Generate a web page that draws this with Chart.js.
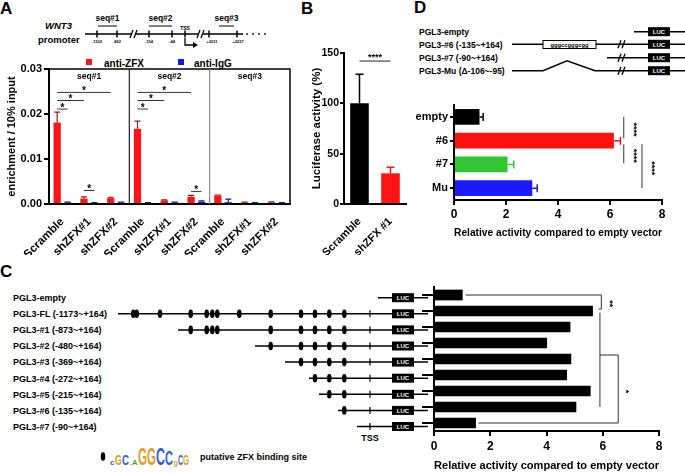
<!DOCTYPE html>
<html>
<head>
<meta charset="utf-8">
<script src="https://cdn.jsdelivr.net/npm/chart.js@4.4.1/dist/chart.umd.min.js"></script>
<style>
    html, body { margin: 0; padding: 0; background: #fff; }
    #page { position: relative; width: 685px; height: 473px; overflow: hidden; }
    #page canvas { position: absolute; }
    #art { position: absolute; left: 0; top: 0; }
</style>
</head>
<body>
<div id="page">
    <svg id="art" width="685" height="473"></svg>
    <canvas id="chartA" width="300" height="200" style="left:0;top:55px"></canvas>
    <canvas id="chartB" width="115" height="215" style="left:300px;top:40px"></canvas>
    <canvas id="chartD" width="280" height="150" style="left:405px;top:95px"></canvas>
    <canvas id="chartC" width="285" height="198" style="left:400px;top:275px"></canvas>
</div>
<script>
/* ---------- data ---------- */

// A: ChIP-qPCR
const chipCategories = ["Scramble", "shZFX#1", "shZFX#2", "Scramble", "shZFX#1", "shZFX#2", "Scramble", "shZFX#1", "shZFX#2"];
const chipRegions = ["seq#1", "seq#2", "seq#3"];
const chipZFX = [0.0181, 0.0012, 0.0013, 0.0167, 0.0008, 0.0016, 0.0019, 0.0003, 0.0004];
const chipZFXErr = [0.0204, 0.0016, 0.0015, 0.0184, 0.0009, 0.0019, 0.0020, 0.0004, 0.0005];
const chipIgG = [0.0003, 0.0002, 0.0003, 0.0002, 0.0003, 0.0005, 0.0004, 0.0002, 0.0002];
const chipIgGErr = [0.0004, 0.0003, 0.0004, 0.0003, 0.0004, 0.0007, 0.0011, 0.0003, 0.0003];
const chipTicks = [0, 0.01, 0.02, 0.03];
// [category, dataset, category, dataset, height]
const chipSig = [
    [0, 0, 2, 0, 0.0248], [0, 0, 1, 0, 0.0230], [0, 0, 0, 1, 0.0211], [1, 0, 1, 1, 0.0030],
    [3, 0, 5, 0, 0.0248], [3, 0, 4, 0, 0.0230], [3, 0, 3, 1, 0.0211], [5, 0, 5, 1, 0.0028]
];

// B: luciferase
const lucCategories = ["Scramble", "shZFX #1"];
const lucValues = [100, 30.5];
const lucErr = [129, 36.5];
const lucSigHeight = 142;

// C: deletion constructs
const delConstructs = ["PGL3-empty", "PGL3-FL (-1173~+164)", "PGL3-#1 (-873~+164)", "PGL3-#2 (-480~+164)",
    "PGL3-#3 (-369~+164)", "PGL3-#4 (-272~+164)", "PGL3-#5 (-215~+164)", "PGL3-#6 (-135~+164)", "PGL3-#7 (-90~+164)"];
const delValues = [1.02, 5.65, 4.85, 4.02, 4.88, 4.73, 5.57, 5.06, 1.49];
const delBrackets = [
    { path: [[1.12, 0], [5.95, 0], [5.95, 0.88], [5.85, 0.88]], label: "**", at: [6.25, 0.42] },
    { path: [[5.9, 1.1], [5.9, 7.0]] },
    { path: [[5.9, 3.75], [6.55, 3.75], [6.55, 8], [1.58, 8]], label: "*", at: [6.8, 5.9] }
];

// D: mutant constructs
const mutConstructs = ["PGL3-empty", "PGL3-#6 (-135~+164)", "PGL3-#7 (-90~+164)", "PGL3-Mu (\u0394-106~-95)"];
const mutCategories = ["empty", "#6", "#7", "Mu"];
const mutValues = [0.98, 6.15, 2.06, 3.01];
const mutErr = [1.12, 6.40, 2.30, 3.20];
const mutColors = ["#000000", "#ff1010", "#33c433", "#1a1aff"];
// [from row, to row, x value]
const mutSig = [[0.0, 0.9, 6.53], [1.15, 1.95, 6.53], [1.15, 3.0, 7.23]];

/* ---------- chart defaults ---------- */

const FONT = '"Liberation Sans", Arial, Helvetica, sans-serif';
Chart.defaults.font.family = FONT;
Chart.defaults.font.weight = "bold";
Chart.defaults.color = "#000";
Chart.defaults.animation = false;
Chart.defaults.responsive = false;
Chart.defaults.devicePixelRatio = 1;
Chart.defaults.plugins.legend.display = false;
Chart.defaults.plugins.tooltip.enabled = false;

function bold(size) {
    return { family: FONT, weight: "bold", size };
}

const errorBars = {
    id: "errorBars",
    afterDatasetsDraw(chart, args, opts) {
        const ctx = chart.ctx;
        const horizontal = chart.options.indexAxis === "y";
        const valueScale = horizontal ? chart.scales.x : chart.scales.y;
        chart.data.datasets.forEach((ds, di) => {
            if (!ds.errorTop) return;
            chart.getDatasetMeta(di).data.forEach((bar, i) => {
                const e = ds.errorTop[i];
                if (e == null) return;
                const end = valueScale.getPixelForValue(e);
                const cap = opts.cap || 3;
                ctx.save();
                ctx.strokeStyle = Array.isArray(ds.errorColor) ? ds.errorColor[i] : ds.errorColor;
                ctx.lineWidth = opts.width || 1.2;
                ctx.beginPath();
                if (horizontal) {
                    ctx.moveTo(bar.x, bar.y);
                    ctx.lineTo(end, bar.y);
                    ctx.moveTo(end, bar.y - cap);
                    ctx.lineTo(end, bar.y + cap);
                } else {
                    ctx.moveTo(bar.x, bar.y);
                    ctx.lineTo(bar.x, end);
                    ctx.moveTo(bar.x - cap, end);
                    ctx.lineTo(bar.x + cap, end);
                }
                ctx.stroke();
                ctx.restore();
            });
        });
    }
};

function rotatedText(ctx, text, x, y, size) {
    ctx.save();
    ctx.translate(x, y);
    ctx.rotate(Math.PI / 2);
    ctx.font = `bold ${size}px ${FONT}`;
    ctx.textAlign = "center";
    ctx.textBaseline = "middle";
    ctx.fillText(text, 0, 0);
    ctx.restore();
}

/* ---------- A ---------- */

const chipExtras = {
    id: "chipExtras",
    afterDraw(chart) {
        const { ctx, chartArea: a, scales: { x, y } } = chart;
        ctx.save();
        ctx.strokeStyle = "#000";
        ctx.lineWidth = 1.5;
        ctx.beginPath();
        ctx.moveTo(a.left, a.top);
        ctx.lineTo(a.right, a.top);
        ctx.lineTo(a.right, a.bottom);
        ctx.stroke();

        [3, 6].forEach((c, k) => {
            const px = (x.getPixelForTick(c - 1) + x.getPixelForTick(c)) / 2;
            ctx.strokeStyle = k ? "#8a8a8a" : "#222";
            ctx.lineWidth = 1.2;
            ctx.beginPath();
            ctx.moveTo(px, a.top);
            ctx.lineTo(px, a.bottom);
            ctx.stroke();
        });

        ctx.fillStyle = "#000";
        ctx.font = `bold 8.5px ${FONT}`;
        ctx.textAlign = "center";
        ctx.textBaseline = "middle";
        chipRegions.forEach((r, g) => {
            ctx.fillText(r, x.getPixelForTick(g * 3 + 1), a.top + 8);
        });

        ctx.font = `bold 10px ${FONT}`;
        ctx.textBaseline = "alphabetic";
        chipSig.forEach(([c1, d1, c2, d2, v]) => {
            const x1 = chart.getDatasetMeta(d1).data[c1].x;
            const x2 = chart.getDatasetMeta(d2).data[c2].x;
            const py = y.getPixelForValue(v);
            ctx.strokeStyle = "#333";
            ctx.lineWidth = 1;
            ctx.beginPath();
            ctx.moveTo(x1, py);
            ctx.lineTo(x2, py);
            ctx.stroke();
            ctx.fillText("*", (x1 + x2) / 2, py + 1.8);
        });
        ctx.restore();
    }
};

new Chart(document.getElementById("chartA"), {
    type: "bar",
    data: {
        labels: chipCategories,
        datasets: [
            { label: "anti-ZFX", data: chipZFX, backgroundColor: "#ff1515", errorTop: chipZFXErr, errorColor: "#8e1b1b" },
            { label: "anti-IgG", data: chipIgG, backgroundColor: "#1515ee", errorTop: chipIgGErr, errorColor: "#1b1b7a" }
        ]
    },
    options: {
        layout: { padding: { top: 14, right: 10, left: 0, bottom: 0 } },
        datasets: { bar: { categoryPercentage: 0.78, barPercentage: 0.7 } },
        plugins: { errorBars: { cap: 3, width: 1.2 } },
        scales: {
            x: {
                grid: { display: false },
                border: { display: true, color: "#000", width: 2 },
                ticks: { autoSkip: false, minRotation: 45, maxRotation: 45, font: bold(11.5), padding: 3 },
                afterFit(s) { s.height = 51; }
            },
            y: {
                min: 0,
                max: 0.03,
                afterBuildTicks(s) { s.ticks = chipTicks.map(v => ({ value: v })); },
                ticks: { font: bold(11), padding: 2, callback: v => v.toFixed(2) },
                grid: { drawOnChartArea: false, tickLength: 5, color: "#000", lineWidth: 2 },
                border: { color: "#000", width: 2 },
                title: { display: true, text: "enrichment / 10% input", font: bold(11), padding: { top: 5, bottom: 0 } },
                afterFit(s) { s.width = 49; }
            }
        }
    },
    plugins: [errorBars, chipExtras]
});

/* ---------- B ---------- */

const lucExtras = {
    id: "lucExtras",
    afterDraw(chart) {
        const { ctx, scales: { y } } = chart;
        const bars = chart.getDatasetMeta(0).data;
        const py = y.getPixelForValue(lucSigHeight);
        ctx.save();
        ctx.strokeStyle = "#222";
        ctx.lineWidth = 1;
        ctx.beginPath();
        ctx.moveTo(bars[0].x, py);
        ctx.lineTo(bars[1].x, py);
        ctx.stroke();
        ctx.fillStyle = "#000";
        ctx.font = `bold 9px ${FONT}`;
        ctx.textAlign = "center";
        ctx.fillText("****", (bars[0].x + bars[1].x) / 2, py - 1.5);
        ctx.restore();
    }
};

new Chart(document.getElementById("chartB"), {
    type: "bar",
    data: {
        labels: lucCategories,
        datasets: [{
            data: lucValues,
            backgroundColor: ["#000000", "#ff1515"],
            errorTop: lucErr,
            errorColor: ["#000000", "#ff1515"]
        }]
    },
    options: {
        layout: { padding: { top: 13, right: 9, left: 6, bottom: 0 } },
        datasets: { bar: { categoryPercentage: 1, barPercentage: 0.6 } },
        plugins: { errorBars: { cap: 4, width: 1.5 } },
        scales: {
            x: {
                grid: { display: false },
                border: { display: true, color: "#000", width: 2 },
                ticks: { autoSkip: false, minRotation: 45, maxRotation: 45, font: bold(11), padding: 3 },
                afterFit(s) { s.height = 51; }
            },
            y: {
                min: 0,
                max: 150,
                ticks: { stepSize: 50, font: bold(10.5), padding: 1 },
                grid: { drawOnChartArea: false, tickLength: 4, color: "#000", lineWidth: 2 },
                border: { color: "#000", width: 2 },
                title: { display: true, text: "Luciferase activity (%)", font: bold(11.5), padding: { top: 4, bottom: 0 } },
                afterFit(s) { s.width = 38; }
            }
        }
    },
    plugins: [errorBars, lucExtras]
});

/* ---------- D ---------- */

const mutExtras = {
    id: "mutExtras",
    afterDraw(chart) {
        const { ctx, scales: { x, y } } = chart;
        ctx.save();
        ctx.strokeStyle = "#333";
        ctx.lineWidth = 1;
        ctx.fillStyle = "#000";
        mutSig.forEach(([r1, r2, v]) => {
            const px = x.getPixelForValue(v);
            const y1 = y.getPixelForValue(r1);
            const y2 = y.getPixelForValue(r2);
            ctx.beginPath();
            ctx.moveTo(px, y1);
            ctx.lineTo(px, y2);
            ctx.stroke();
            rotatedText(ctx, "****", x.getPixelForValue(v + 0.38), (y1 + y2) / 2 + 2, 9);
        });
        ctx.restore();
    }
};

new Chart(document.getElementById("chartD"), {
    type: "bar",
    data: {
        labels: mutCategories,
        datasets: [{
            data: mutValues,
            backgroundColor: mutColors,
            errorTop: mutErr,
            errorColor: mutColors
        }]
    },
    options: {
        indexAxis: "y",
        layout: { padding: { top: 10, right: 23, left: 0, bottom: 0 } },
        datasets: { bar: { categoryPercentage: 1, barPercentage: 0.66 } },
        plugins: { errorBars: { cap: 4, width: 1.5 } },
        scales: {
            x: {
                min: 0,
                max: 8,
                ticks: { stepSize: 2, font: bold(12), padding: 2 },
                grid: { drawOnChartArea: false, tickLength: 5, color: "#000", lineWidth: 2 },
                border: { color: "#000", width: 2 },
                title: { display: true, text: "Relative activity compared to empty vector", font: bold(11.5), padding: { top: 0, bottom: 5 } },
                afterFit(s) { s.height = 45; }
            },
            y: {
                ticks: { font: bold(11), padding: 2 },
                grid: { offset: false, drawOnChartArea: false, tickLength: 4, color: "#000", lineWidth: 2 },
                border: { color: "#000", width: 2 },
                afterFit(s) { s.width = 49; }
            }
        }
    },
    plugins: [errorBars, mutExtras]
});

/* ---------- C ---------- */

const delExtras = {
    id: "delExtras",
    afterDraw(chart) {
        const { ctx, scales: { x, y } } = chart;
        ctx.save();
        ctx.strokeStyle = "#333";
        ctx.lineWidth = 1;
        ctx.fillStyle = "#000";
        delBrackets.forEach(b => {
            ctx.beginPath();
            b.path.forEach(([v, r], k) => {
                const px = x.getPixelForValue(v);
                const py = y.getPixelForValue(r);
                if (k === 0) ctx.moveTo(px, py);
                else ctx.lineTo(px, py);
            });
            ctx.stroke();
            if (b.label) {
                rotatedText(ctx, b.label, x.getPixelForValue(b.at[0]), y.getPixelForValue(b.at[1]) + 2, 9);
            }
        });
        ctx.restore();
    }
};

new Chart(document.getElementById("chartC"), {
    type: "bar",
    data: {
        labels: delConstructs,
        datasets: [{ data: delValues, backgroundColor: "#000000" }]
    },
    options: {
        indexAxis: "y",
        layout: { padding: { top: 12, right: 26, left: 0, bottom: 0 } },
        datasets: { bar: { categoryPercentage: 1, barPercentage: 0.67 } },
        scales: {
            x: {
                min: 0,
                max: 8,
                ticks: { stepSize: 2, font: bold(12), padding: 3 },
                grid: { drawOnChartArea: false, tickLength: 5, color: "#000", lineWidth: 2 },
                border: { color: "#000", width: 2 },
                title: { display: true, text: "Relative activity compared to empty vector", font: bold(11.5), padding: { top: 0, bottom: 0 } },
                afterFit(s) { s.height = 42; }
            },
            y: {
                ticks: { display: false },
                grid: { offset: false, drawOnChartArea: false, tickLength: 12, color: "#000", lineWidth: 2 },
                border: { color: "#000", width: 2 },
                afterFit(s) { s.width = 34; }
            }
        }
    },
    plugins: [delExtras]
});

/* ---------- schematics (svg) ---------- */

function txt(x, y, s, size, extra = "") {
    return `<text x="${x}" y="${y}" font-size="${size}" font-weight="bold" font-family='${FONT}' ${extra}>${s}</text>`;
}
function line(x1, y1, x2, y2, w = 1.5, color = "#000") {
    return `<line x1="${x1}" y1="${y1}" x2="${x2}" y2="${y2}" stroke="${color}" stroke-width="${w}"/>`;
}
function breakMark(x, y) {
    return line(x - 3, y + 4, x, y - 4, 1.3) + line(x + 1, y + 4, x + 4, y - 4, 1.3);
}
function lucBox(x, y) {
    return `<rect x="${x}" y="${y - 4.5}" width="22" height="9" fill="#000"/>` +
        txt(x + 11, y + 2.2, "LUC", 6, 'fill="#fff" text-anchor="middle"');
}

let svg = "";

// panel letters
svg += txt(0, 14, "A", 17) + txt(301, 14, "B", 17) + txt(414, 13, "D", 17) + txt(0, 277, "C", 17);

// A: WNT3 promoter
svg += txt(45, 29, "WNT3", 9.5, 'font-style="italic"') + txt(38, 43, "promoter", 9.5);
svg += line(85, 34, 131, 34) + line(136, 34, 198, 34) + line(203, 34, 243, 34);
svg += breakMark(133, 34) + breakMark(200, 34);
[97, 117, 149, 172, 185, 209, 237].forEach(px => { svg += line(px, 30.5, px, 37.5, 1.5); });
[["-1102", 97], ["-862", 117], ["-154", 149], ["-44", 172], ["+3011", 212], ["+3237", 238]].forEach(([s, px]) => {
    svg += txt(px, 43, s, 4, 'text-anchor="middle"');
});
[247, 253, 259, 265].forEach(px => { svg += `<circle cx="${px}" cy="34" r="0.9" fill="#000"/>`; });
[["seq#1", 98, 117], ["seq#2", 149, 172], ["seq#3", 219, 234]].forEach(([s, a, b]) => {
    svg += line(a, 26, b, 26, 1) + txt((a + b) / 2, 21, s, 8.5, 'text-anchor="middle"');
});
svg += txt(185, 30, "TSS", 5, 'text-anchor="middle"');
svg += `<path d="M185 38 V45 H194" fill="none" stroke="#000" stroke-width="1.3"/>` +
    `<path d="M193 42 L198 45 L193 48 Z" fill="#000"/>`;

// A legend
svg += `<rect x="86" y="59" width="6" height="6" fill="#ff1515"/>` + txt(104, 67, "anti-ZFX", 10);
svg += `<rect x="178" y="59" width="6" height="6" fill="#1515ee"/>` + txt(194, 67, "anti-IgG", 10);

// D: constructs
const mutRowY = [31.7, 44.3, 57.7, 70.7];
const mutStart = [634, 512, 607, 512];
mutConstructs.forEach((s, i) => {
    const yy = mutRowY[i];
    svg += txt(419, yy + 3.2, s, 8.5);
    if (i === 3) {
        svg += `<polyline points="512,${yy} 543,${yy} 567,60.7 595,${yy} 685,${yy}" fill="none" stroke="#000" stroke-width="1.5"/>`;
    } else {
        svg += line(mutStart[i], yy, 685, yy);
    }
    if (i > 0) svg += breakMark(621, yy);
    svg += lucBox(648, yy);
});
svg += `<rect x="543" y="40.5" width="53" height="8" fill="#fff" stroke="#000" stroke-width="1"/>` +
    txt(569.5, 46.7, "gggccgggcgg", 5.8, 'text-anchor="middle"');

// C: constructs
const delStart = [378, 118, 178, 255, 285, 309, 319, 338, 357];
const delSites = [
    [],
    [133.3, 136.7, 160, 190.7, 206.7, 212.3, 217.3, 239.3, 270.7, 301, 315, 329.3, 344.3],
    [190.7, 206.7, 212.3, 217.3, 270.7, 301, 315, 329.3, 344.3],
    [270.7, 301, 315, 329.3, 344.3],
    [301, 315, 329.3, 344.3],
    [315, 329.3, 344.3],
    [329.3, 344.3],
    [344.3],
    []
];
delConstructs.forEach((s, i) => {
    const yy = 297.7 + i * 16.1;
    svg += txt(13, yy + 3.3, s, 9);
    svg += line(delStart[i], yy, 428, yy);
    if (i > 0) svg += line(370, yy - 3.5, 370, yy + 3.5, 1.2);
    delSites[i].forEach(px => { svg += `<ellipse cx="${px}" cy="${yy}" rx="2.3" ry="4.3" fill="#000"/>`; });
    svg += lucBox(392, yy);
});
svg += txt(370, 441, "TSS", 9, 'text-anchor="middle"');

// binding site legend with sequence logo
svg += `<ellipse cx="103" cy="456.5" rx="2.3" ry="4.3" fill="#000"/>`;
const logo = [
    ["c", 110, 4.5, 8, "#3060d0"], ["G", 115, 7, 15, "#e0a020"], ["C", 122, 7, 15, "#3060d0"],
    [".", 129.5, 2.5, 5, "#999"], ["A", 132, 5.5, 8, "#3aa040"], ["G", 138, 9, 24, "#e0a020"],
    ["G", 147, 9, 24, "#e0a020"], ["C", 156, 9, 24, "#3060d0"], ["C", 165, 8, 20, "#3060d0"],
    ["g", 173.5, 4.5, 8, "#e0a020"], ["C", 178, 5, 14, "#3060d0"], ["G", 183, 6, 15, "#e0a020"]
];
logo.forEach(([ch, lx, w, h, col]) => {
    svg += `<text x="${lx}" y="465" font-size="${h}" font-family='${FONT}' font-weight="bold" fill="${col}" textLength="${w}" lengthAdjust="spacingAndGlyphs">${ch}</text>`;
});
svg += txt(200, 460, "putative ZFX binding site", 9);

document.getElementById("art").innerHTML = svg;
</script>
</body>
</html>
